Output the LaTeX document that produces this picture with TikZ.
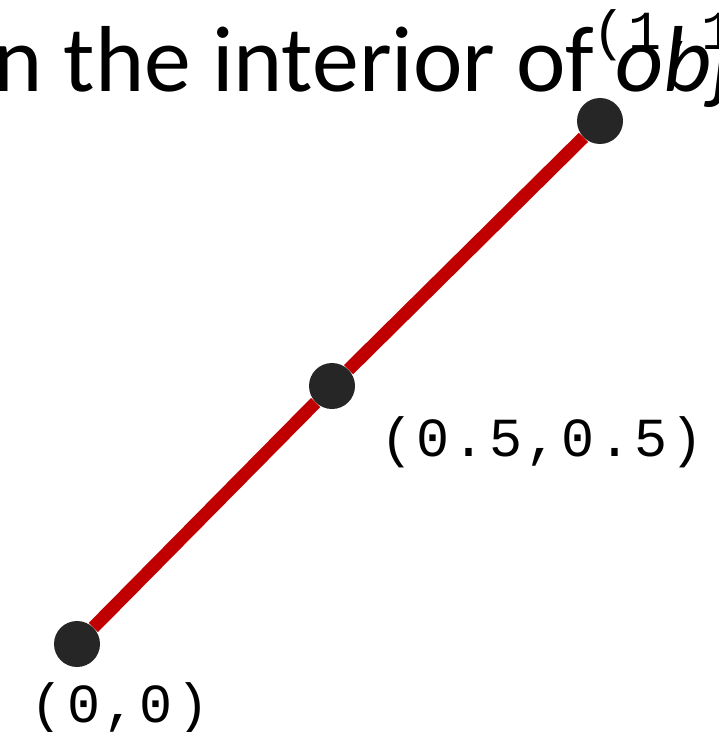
\documentclass[tikz,border=0pt]{standalone}
\usepackage{fontspec}
\setmainfont{Carlito}
\newfontfamily\codefont[LetterSpace=6]{Liberation Mono}
\usetikzlibrary{positioning}
\definecolor{segred}{RGB}{192,0,0}
\definecolor{dotgray}{RGB}{38,38,38}

\tikzset{
  pt/.style={circle, fill=dotgray, inner sep=0pt, minimum size=1.38cm},
  lbl/.style={font=\codefont\fontsize{47}{47}\selectfont, inner sep=0pt},
  seg/.style={segred, line width=0.39cm}
}

\begin{document}
\begin{tikzpicture}[x=0.03cm, y=-0.03cm]

  % Frame (pixels of the slide crop)
  \useasboundingbox (0,0) rectangle (718,732);
  \clip (0,0) rectangle (718,732);

  % Title line, cut by the crop
  \node[anchor=base west, inner sep=0pt, font=\fontsize{80}{80}\selectfont]
       (title) at (-7,92) {n the interior of \textit{obj}};

  % Points on the segment
  \node[pt] (o) at (77,644) {};
  \node[pt] (m) at (332,386) {};
  \node[pt] (a) at (600,121) {};

  % Segment
  \draw[seg] (o) -- (m);
  \draw[seg] (m) -- (a);

  % Coordinates
  \node[lbl, anchor=base] (lo) at (120,722) {(0,0)};
  \node[lbl, anchor=base west] (lm) at (380,456) {(0.5,0.5)};
  \node[lbl, anchor=base west] (la) at (592,50) {(1,1)};

\end{tikzpicture}
\end{document}
